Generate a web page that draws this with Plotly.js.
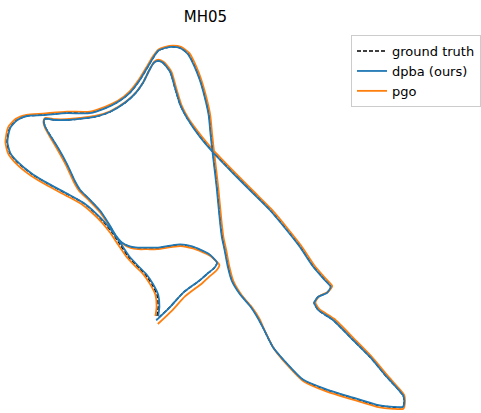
<!DOCTYPE html>
<html>
<head>
<meta charset="utf-8">
<script src="https://cdn.plot.ly/plotly-3.0.1.min.js"></script>
<style>html,body{margin:0;padding:0;background:#fff;}#chart{width:481px;height:413px;}</style>
</head>
<body>
<div id="chart"></div>
<script>
// Trajectory positions in metres (x, y)
const gtX = [0.00,0.03,0.00,-0.13,-0.30,-0.50,-0.73,-0.93,-1.13,-1.33,
 -1.55,-1.85,-2.25,-2.68,-3.10,-3.50,-3.68,-3.75,-3.68,-3.50,
 -3.25,-2.85,-2.25,-1.68,-1.30,-0.98,-0.68,-0.43,-0.23,-0.10,
 0.03,0.20,0.38,0.58,0.78,0.95,1.08,1.20,1.30,1.35,
 1.40,1.50,1.58,1.63,1.70,1.78,1.88,2.08,2.35,2.53,
 2.68,2.90,3.25,3.65,4.25,4.90,5.50,5.90,6.15,6.18,
 6.15,6.00,5.75,5.33,4.90,4.40,4.03,3.93,4.03,4.25,
 4.35,4.20,3.90,3.58,3.25,2.83,2.40,1.90,1.40,1.08,
 0.75,0.58,0.45,0.33,0.15,0.03,-0.08,-0.20,-0.35,-0.53,
 -0.80,-1.18,-1.55,-1.93,-2.25,-2.55,-2.80,-2.83,-2.78,-2.68,
 -2.48,-2.25,-2.05,-1.93,-1.68,-1.43,-1.18,-1.03,-0.88,-0.68,
 -0.48,-0.25,0.00,0.33,0.58,0.88,1.08,1.28,1.40,1.50,
 1.43,1.25,1.08,0.65,0.33,0.00];
const gtY = [0.05,0.28,0.58,0.85,1.10,1.30,1.55,1.85,2.15,2.40,
 2.63,2.88,3.10,3.33,3.58,3.90,4.13,4.40,4.75,4.95,
 5.05,5.08,5.13,5.13,5.25,5.40,5.63,5.95,6.28,6.50,
 6.68,6.75,6.78,6.75,6.60,6.28,5.95,5.53,5.08,4.58,
 4.13,3.28,2.45,2.03,1.70,1.28,0.93,0.60,0.28,0.00,
 -0.30,-0.73,-1.15,-1.55,-1.80,-2.00,-2.18,-2.23,-2.23,-2.05,
 -1.93,-1.75,-1.48,-0.98,-0.55,-0.05,0.20,0.38,0.53,0.63,
 0.78,0.95,1.30,1.78,2.20,2.70,3.13,3.63,4.15,4.53,
 5.00,5.33,5.75,6.15,6.38,6.43,6.38,6.18,5.88,5.63,
 5.38,5.15,5.03,4.98,4.95,4.95,4.98,4.90,4.75,4.58,
 4.25,3.83,3.40,3.20,2.95,2.68,2.30,2.05,1.88,1.78,
 1.75,1.75,1.75,1.80,1.83,1.78,1.70,1.60,1.50,1.38,
 1.25,1.10,0.95,0.63,0.28,-0.03];

const dpbaX = [0.03,0.06,0.03,-0.10,-0.27,-0.47,-0.70,-0.90,-1.11,-1.31,
 -1.54,-1.84,-2.25,-2.68,-3.10,-3.49,-3.67,-3.74,-3.67,-3.49,
 -3.25,-2.85,-2.25,-1.68,-1.30,-0.98,-0.68,-0.43,-0.23,-0.10,
 0.03,0.20,0.38,0.58,0.77,0.94,1.07,1.19,1.29,1.34,
 1.39,1.49,1.57,1.62,1.69,1.77,1.87,2.07,2.34,2.52,
 2.68,2.90,3.25,3.65,4.25,4.90,5.50,5.90,6.15,6.18,
 6.15,6.00,5.75,5.33,4.90,4.40,4.03,3.93,4.03,4.25,
 4.34,4.19,3.89,3.57,3.24,2.82,2.39,1.89,1.39,1.07,
 0.75,0.58,0.45,0.33,0.15,0.03,-0.08,-0.20,-0.35,-0.53,
 -0.80,-1.18,-1.55,-1.93,-2.25,-2.55,-2.80,-2.83,-2.78,-2.68,
 -2.47,-2.24,-2.04,-1.92,-1.67,-1.42,-1.17,-1.02,-0.87,-0.68,
 -0.48,-0.25,0.00,0.33,0.58,0.88,1.08,1.28,1.40,1.50,
 1.43,1.25,1.08,0.65,0.33,-0.02];
const dpbaY = [0.05,0.28,0.58,0.85,1.10,1.30,1.55,1.85,2.15,2.40,
 2.63,2.88,3.11,3.34,3.59,3.91,4.13,4.40,4.75,4.95,
 5.05,5.07,5.12,5.12,5.24,5.40,5.63,5.95,6.28,6.50,
 6.68,6.75,6.78,6.75,6.60,6.28,5.95,5.53,5.08,4.58,
 4.13,3.28,2.45,2.03,1.70,1.28,0.93,0.60,0.28,0.00,
 -0.30,-0.73,-1.14,-1.54,-1.79,-1.99,-2.17,-2.22,-2.22,-2.05,
 -1.93,-1.75,-1.48,-0.98,-0.55,-0.05,0.20,0.38,0.53,0.63,
 0.78,0.95,1.30,1.78,2.20,2.70,3.13,3.63,4.15,4.53,
 5.00,5.33,5.75,6.15,6.38,6.43,6.38,6.18,5.88,5.63,
 5.38,5.15,5.03,4.98,4.95,4.95,4.98,4.90,4.75,4.58,
 4.25,3.83,3.40,3.20,2.95,2.68,2.30,2.05,1.88,1.79,
 1.76,1.76,1.76,1.81,1.84,1.79,1.71,1.61,1.51,1.38,
 1.25,1.10,0.95,0.63,0.28,-0.06];

const pgoX = [-0.04,-0.01,-0.04,-0.17,-0.34,-0.54,-0.77,-0.97,-1.17,-1.37,
 -1.59,-1.89,-2.29,-2.72,-3.14,-3.54,-3.72,-3.79,-3.72,-3.53,
 -3.26,-2.85,-2.25,-1.68,-1.30,-0.98,-0.69,-0.44,-0.24,-0.11,
 0.03,0.21,0.39,0.60,0.81,0.98,1.11,1.23,1.33,1.38,
 1.43,1.53,1.61,1.66,1.73,1.81,1.91,2.11,2.38,2.56,
 2.70,2.92,3.26,3.66,4.25,4.90,5.50,5.90,6.16,6.20,
 6.18,6.03,5.78,5.36,4.93,4.43,4.06,3.96,4.06,4.28,
 4.38,4.23,3.93,3.61,3.28,2.86,2.43,1.93,1.43,1.11,
 0.78,0.61,0.48,0.36,0.17,0.04,-0.07,-0.19,-0.34,-0.52,
 -0.79,-1.17,-1.55,-1.93,-2.25,-2.55,-2.80,-2.84,-2.80,-2.70,
 -2.50,-2.27,-2.07,-1.95,-1.69,-1.43,-1.17,-1.01,-0.85,-0.66,
 -0.47,-0.24,0.01,0.34,0.59,0.90,1.11,1.32,1.45,1.56,
 1.48,1.30,1.13,0.70,0.37,0.02];
const pgoY = [0.05,0.28,0.58,0.84,1.09,1.29,1.54,1.83,2.13,2.38,
 2.60,2.85,3.07,3.30,3.55,3.88,4.11,4.40,4.77,4.98,
 5.08,5.11,5.16,5.16,5.28,5.43,5.66,5.98,6.31,6.53,
 6.71,6.78,6.81,6.78,6.62,6.29,5.95,5.53,5.08,4.58,
 4.13,3.28,2.45,2.03,1.70,1.28,0.92,0.58,0.26,-0.02,
 -0.33,-0.76,-1.18,-1.58,-1.84,-2.04,-2.22,-2.27,-2.27,-2.07,
 -1.93,-1.74,-1.46,-0.96,-0.52,-0.02,0.22,0.39,0.55,0.66,
 0.80,0.97,1.32,1.80,2.22,2.72,3.15,3.65,4.17,4.55,
 5.00,5.33,5.75,6.16,6.40,6.46,6.41,6.20,5.90,5.65,
 5.40,5.17,5.05,5.00,4.97,4.97,5.00,4.91,4.75,4.57,
 4.23,3.81,3.38,3.18,2.93,2.65,2.27,2.02,1.85,1.75,
 1.72,1.72,1.72,1.77,1.80,1.74,1.66,1.56,1.45,1.33,
 1.18,1.03,0.87,0.54,0.18,-0.15];

const seriesNames = ['ground truth', 'dpba (ours)', 'pgo'];
const titleText = 'MH05';

const FONT = 'DejaVu Sans, sans-serif';
const traces = [
  {x: gtX, y: gtY, name: seriesNames[0], mode: 'lines', legendrank: 1,
   line: {color: '#000000', width: 1.5, dash: '4px,2px', shape: 'spline', smoothing: 0.6}},
  {x: pgoX, y: pgoY, name: seriesNames[2], mode: 'lines', legendrank: 3,
   line: {color: '#ff7f0e', width: 1.8, shape: 'spline', smoothing: 0.6}},
  {x: dpbaX, y: dpbaY, name: seriesNames[1], mode: 'lines', legendrank: 2,
   line: {color: '#1f77b4', width: 1.8, shape: 'spline', smoothing: 0.6}}
];

const layout = {
  width: 481, height: 413,
  margin: {l: 0, r: 0, t: 0, b: 0},
  paper_bgcolor: '#ffffff', plot_bgcolor: '#ffffff',
  font: {family: FONT, color: '#000000'},
  title: {text: titleText, x: 0.427, xanchor: 'center', y: 0.959, yanchor: 'middle',
          font: {family: FONT, size: 15, color: '#000000'}},
  xaxis: {visible: false, range: [-3.925, 8.1], fixedrange: true},
  yaxis: {visible: false, range: [-2.375, 7.95], fixedrange: true},
  showlegend: true,
  legend: {x: 1.0, xanchor: 'right', y: 0.915, yanchor: 'top',
           bgcolor: 'rgba(255,255,255,0.8)', bordercolor: '#cccccc', borderwidth: 1,
           font: {family: FONT, size: 13, color: '#000000'}, itemwidth: 30,
           tracegroupgap: 0}
};

Plotly.newPlot('chart', traces, layout, {displayModeBar: false, staticPlot: true});
</script>
</body>
</html>
